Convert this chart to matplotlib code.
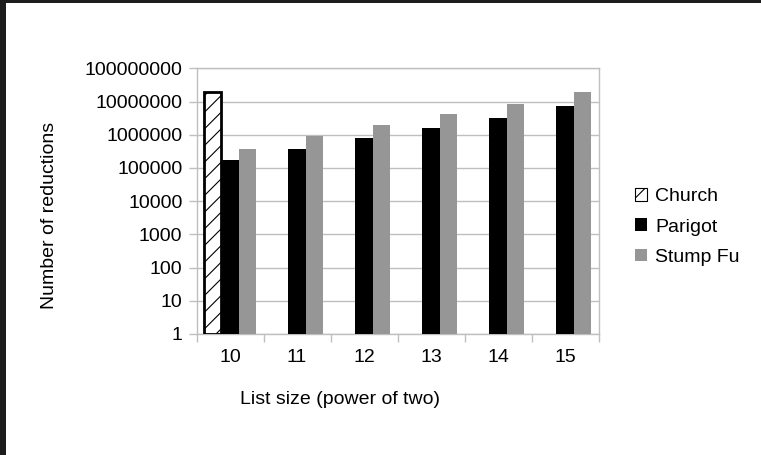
import numpy as np
import matplotlib
matplotlib.use("Agg")
import matplotlib.pyplot as plt
from matplotlib.patches import Rectangle, Patch
from matplotlib.ticker import FixedLocator, NullLocator, FuncFormatter

# data
list_sizes = ["10", "11", "12", "13", "14", "15"]
church = [1.95e7]  # only measured for list size 10
parigot = [1.7e5, 3.6e5, 7.7e5, 1.55e6, 3.3e6, 7.4e6]
stump_fu = [3.8e5, 8.9e5, 1.9e6, 4.1e6, 8.7e6, 1.95e7]
y_ticks = [1, 10, 100, 1000, 10000, 100000, 1000000, 10000000, 100000000]

plt.rcParams['font.family'] = ['Liberation Sans', 'DejaVu Sans']
plt.rcParams['hatch.linewidth'] = 0.8
grid_grey = '#bfbfbf'

fig = plt.figure(figsize=(7.61, 4.55), dpi=100)
ax = fig.add_axes([196.5 / 761, 1 - 334 / 455, 402 / 761, (334 - 68.3) / 455])

x = np.arange(len(list_sizes))
w = 0.254
ax.bar(x[:len(church)] - w, church, width=w, bottom=1, color='white',
       edgecolor='black', linewidth=2.0, hatch='//', zorder=3)
ax.bar(x, parigot, width=w, bottom=1, color='black', zorder=3)
ax.bar(x + w, stump_fu, width=w, bottom=1, color='#969696', zorder=3)

ax.set_yscale('log')
ax.set_ylim(1, 1e8)
ax.set_xlim(-0.5, len(list_sizes) - 0.5)
ax.yaxis.set_major_locator(FixedLocator(y_ticks))
ax.yaxis.set_minor_locator(NullLocator())
ax.yaxis.set_major_formatter(FuncFormatter(lambda v, p: '%d' % v))
ax.set_xticks(x)
ax.set_xticklabels(list_sizes)
ax.set_xticks(np.arange(len(list_sizes) + 1) - 0.5, minor=True)

ax.tick_params(axis='y', which='major', length=5.8, width=1, color=grid_grey,
               pad=4.3, labelsize=14)
ax.tick_params(axis='x', which='major', length=0, pad=11, labelsize=14)
ax.tick_params(axis='x', which='minor', length=5.8, width=1, color=grid_grey)

ax.grid(axis='y', color=grid_grey, linewidth=1, zorder=0)
ax.set_axisbelow(True)
for side in ['left', 'right', 'top', 'bottom']:
    ax.spines[side].set_color(grid_grey)
    ax.spines[side].set_linewidth(1)

fig.text(50 / 761, 1 - 215 / 455, 'Number of reductions', rotation=90,
         ha='center', va='center', fontsize=14)
fig.text(340 / 761, 1 - 399 / 455, 'List size (power of two)',
         ha='center', va='center', fontsize=14)

handles = [Patch(facecolor='white', edgecolor='black', hatch='//', linewidth=0.8),
           Patch(facecolor='black'),
           Patch(facecolor='#969696')]
fig.legend(handles, ['Church', 'Parigot', 'Stump Fu'], loc='center left',
           bbox_to_anchor=(635 / 761, 1 - 227 / 455), frameon=False,
           fontsize=14, handlelength=0.62, handleheight=0.62,
           handletextpad=0.41, labelspacing=0.68, borderpad=0, borderaxespad=0)

# dark frame strips on the left and top edge of the screenshot
fig.patches.append(Rectangle((0, 0), 6 / 761, 1, transform=fig.transFigure,
                             facecolor='#1c1c1c', edgecolor='none'))
fig.patches.append(Rectangle((0, 1 - 3 / 455), 1, 3 / 455, transform=fig.transFigure,
                             facecolor='#1c1c1c', edgecolor='none'))

fig.savefig('out.png', dpi=100)
